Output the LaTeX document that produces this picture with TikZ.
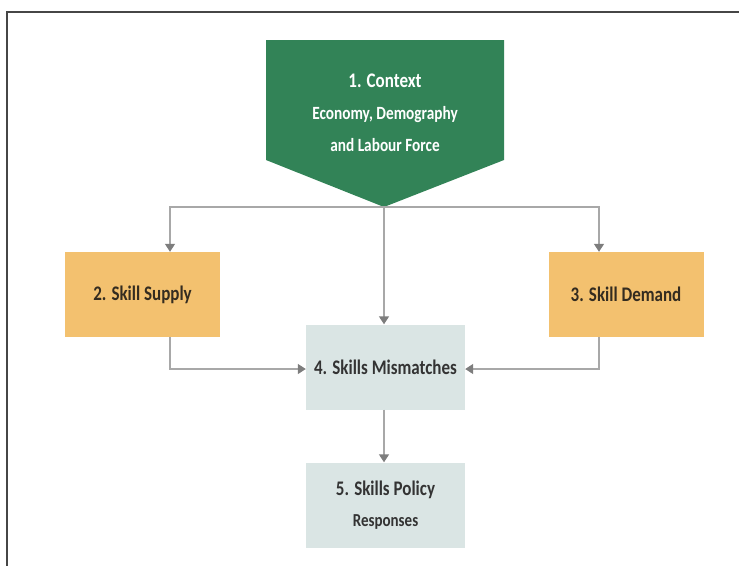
\documentclass[tikz,border=0pt]{standalone}
\usepackage{fontspec}
\setmainfont{Carlito}
\usepackage{graphicx}
\usepackage{tikz}
\usetikzlibrary{positioning,arrows.meta}
\usepackage{xcolor}

\definecolor{ctxgreen}{RGB}{50,131,87}
\definecolor{skillorange}{RGB}{243,193,111}
\definecolor{mismblue}{RGB}{218,229,228}
\definecolor{linegray}{RGB}{168,168,168}
\definecolor{tipgray}{RGB}{125,125,125}
\definecolor{framegray}{RGB}{70,70,70}
\definecolor{textdark}{RGB}{52,44,32}

% tall text, as in the figure
\newcommand{\tallt}[1]{\scalebox{1}[1.22]{#1}}

\begin{document}
\begin{tikzpicture}[x=1pt, y=-1pt,
    box/.style={rectangle, inner sep=0pt, minimum width=155pt, minimum height=85pt,
                align=center, text=textdark, font=\bfseries\fontsize{17}{31}\selectfont},
    link/.style={draw=linegray, line width=1.4pt,
                 -{Triangle[width=10pt,length=8pt,color=tipgray]}}]

    \useasboundingbox (0,0) rectangle (739,566);

    % Frame
    \draw[framegray, line width=1.6pt] (739,12) -- (7,12) -- (7,566);

    % Context (pentagon)
    \coordinate (ctxtip) at (384,207);
    \fill[ctxgreen] (266,40) -- (504,40) -- (504,160) -- (ctxtip) -- (266,160) -- cycle;
    \node[align=center, text=white, font=\bfseries\fontsize{15.3}{32}\selectfont] at (385,113) (ctx)
        {{\fontsize{17}{32}\selectfont\tallt{1. Context}}\\\tallt{Economy, Demography}\\\tallt{and Labour Force}};

    % Supply and demand
    \node[box, fill=skillorange] at (142.5,294.5) (supply) {\tallt{2. Skill Supply}};
    \node[box, fill=skillorange] at (626,294.5) (demand) {\tallt{3. Skill Demand}};

    % Mismatches and policy
    \node[box, fill=mismblue, minimum width=159pt, text=black!80] at (385.5,367) (mism) {\tallt{4. Skills Mismatches}};
    \node[box, fill=mismblue, minimum width=159pt, text=black!80] at (385.5,505) (policy)
        {\tallt{5. Skills Policy}\\{\fontsize{15}{31}\selectfont\tallt{Responses}}};

    % Connectors
    \draw[link] (ctxtip) -| ([xshift=27.5pt]supply.north);
    \draw[link] (ctxtip) -| ([xshift=-27pt]demand.north);
    \draw[link] (ctxtip) -- (ctxtip |- mism.north);
    \draw[link] ([xshift=27.5pt]supply.south) |- ([yshift=-2pt]mism.west);
    \draw[link] ([xshift=-27pt]demand.south) |- ([yshift=-2pt]mism.east);
    \draw[link] (mism.south -| ctxtip) -- (policy.north -| ctxtip);

\end{tikzpicture}
\end{document}
